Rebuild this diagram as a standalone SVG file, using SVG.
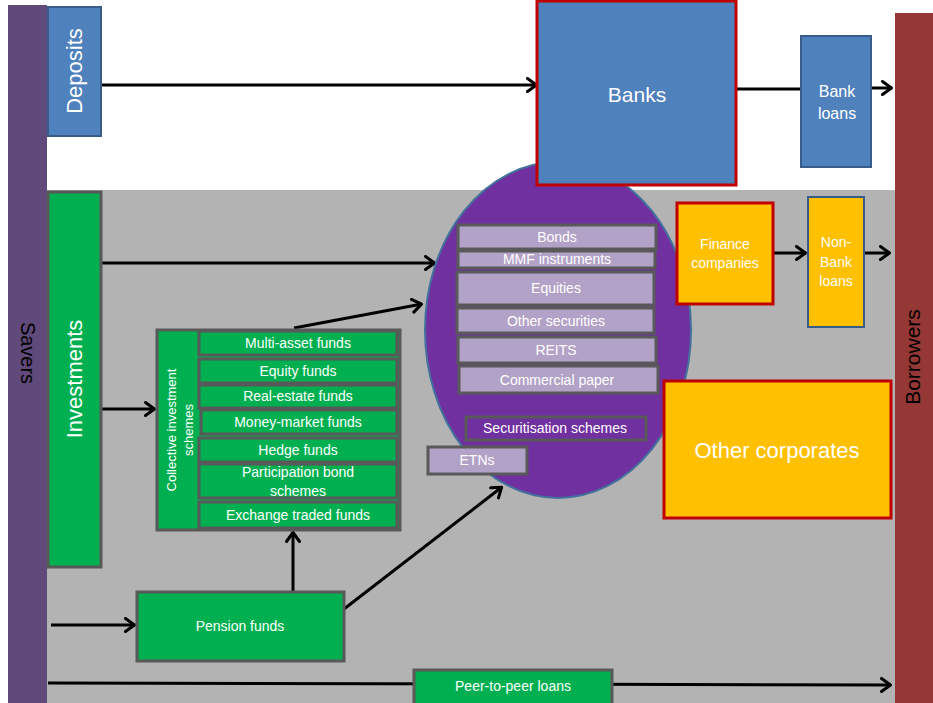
<svg xmlns="http://www.w3.org/2000/svg" width="933" height="703" viewBox="0 0 933 703">
<defs>
<marker id="arr" viewBox="0 0 12 16" refX="11" refY="8" markerWidth="12" markerHeight="16" markerUnits="userSpaceOnUse" orient="auto">
<path d="M1.5,1.5 L10.5,8 L1.5,14.5" fill="none" stroke="#000" stroke-width="3" stroke-linecap="round" stroke-linejoin="round"/>
</marker>
</defs>
<style>
text{font-family:"Liberation Sans",Arial,sans-serif;fill:#fff;text-anchor:middle}
.g{fill:#00B050;stroke:#595959;stroke-width:3}
.lav{fill:#B3A2C7;stroke:#595959;stroke-width:3}
.blue{fill:#4F81BD;stroke:#385D8A;stroke-width:2}
.red{stroke:#C00000;stroke-width:3}
.y{fill:#FFC000}
.t14{font-size:14px}
.c line{stroke:#000;stroke-width:3}
.c .a{marker-end:url(#arr)}
</style>
<rect x="0" y="0" width="933" height="703" fill="#fff"/>
<rect x="47" y="190" width="848" height="513" fill="#B3B3B3"/>

<g id="savers"><rect x="8" y="5" width="39" height="698" fill="#604A7B"/>
<text transform="translate(21,353) rotate(90)" font-size="20" style="fill:#000">Savers</text></g>
<g id="borrowers"><rect x="895" y="13" width="38" height="690" fill="#953735"/>
<text transform="translate(920,357) rotate(-90)" font-size="21" style="fill:#000">Borrowers</text></g>

<g class="c" id="connectors">
<line class="a" x1="101" y1="85" x2="537" y2="85"/>
<line x1="736" y1="89" x2="801" y2="89"/>
<line class="a" x1="871" y1="88" x2="892" y2="88"/>
<line class="a" x1="101" y1="263" x2="435" y2="263"/>
<line class="a" x1="101" y1="409" x2="155" y2="409"/>
<line class="a" x1="294" y1="328" x2="422" y2="304"/>
<line class="a" x1="774" y1="253" x2="806" y2="253"/>
<line class="a" x1="864" y1="253" x2="890" y2="253"/>
<line class="a" x1="51" y1="625" x2="135" y2="625"/>
<line class="a" x1="293" y1="592" x2="293" y2="532"/>
<line class="a" x1="344" y1="609" x2="502" y2="487"/>
<line class="a" x1="48" y1="683" x2="891" y2="685"/>
</g>

<g id="deposits"><rect class="blue" x="48" y="7" width="53" height="129"/>
<text transform="translate(82,71) rotate(-90)" font-size="22">Deposits</text></g>
<g id="investments"><rect class="g" x="48" y="192" width="53" height="375"/>
<text transform="translate(82,379) rotate(-90)" font-size="22">Investments</text></g>

<g id="markets"><ellipse cx="558" cy="330" rx="133" ry="168" fill="#7030A0" stroke="#41719C" stroke-width="2"/>
<g id="bonds"><rect class="lav" x="458" y="225" width="198" height="24"/><text class="t14" x="557" y="242">Bonds</text></g>
<g id="mmf"><rect class="lav" x="458" y="251" width="197" height="17"/><text class="t14" x="557" y="264">MMF instruments</text></g>
<g id="equities"><rect class="lav" x="457" y="272" width="197" height="33"/><text class="t14" x="556" y="293">Equities</text></g>
<g id="othersec"><rect class="lav" x="457" y="308" width="197" height="25"/><text class="t14" x="556" y="326">Other securities</text></g>
<g id="reits"><rect class="lav" x="458" y="337" width="198" height="26"/><text class="t14" x="556" y="355">REITS</text></g>
<g id="cp"><rect class="lav" x="459" y="366" width="199" height="27"/><text class="t14" x="557" y="385">Commercial paper</text></g>
<g id="securitisation"><rect x="466" y="417" width="180" height="23" fill="#7030A0" stroke="#595959" stroke-width="3"/><text class="t14" x="555" y="433">Securitisation schemes</text></g>
<g id="etns"><rect class="lav" x="428" y="447" width="99" height="27"/><text class="t14" x="477" y="465">ETNs</text></g>
</g>

<g id="banks"><rect x="537" y="1" width="199" height="184" fill="#4F81BD" class="red"/>
<text x="637" y="102" font-size="21">Banks</text></g>
<g id="bankloans"><rect class="blue" x="801" y="36" width="70" height="131"/>
<text x="837" y="97" font-size="16">Bank</text><text x="837" y="119" font-size="16">loans</text></g>

<g id="finance"><rect class="y red" x="677" y="203" width="96" height="101"/>
<text class="t14" x="725" y="249">Finance</text><text class="t14" x="725" y="268">companies</text></g>
<g id="nonbank"><rect class="y" x="808" y="197" width="56" height="130" stroke="#385D8A" stroke-width="2"/>
<text class="t14" x="836" y="247">Non-</text><text class="t14" x="836" y="267">Bank</text><text class="t14" x="836" y="286">loans</text></g>
<g id="othercorp"><rect class="y red" x="664" y="381" width="227" height="137"/>
<text x="777" y="458" font-size="22">Other corporates</text></g>

<g id="cis"><rect class="g" x="157" y="330" width="243" height="200"/>
<text transform="rotate(-90 176 430)" x="176" y="430" font-size="13">Collective investment</text>
<text transform="rotate(-90 193 430)" x="193" y="430" font-size="13">schemes</text>
<g id="multi"><rect class="g" x="199" y="331" width="198" height="24"/><text class="t14" x="298" y="348">Multi-asset funds</text></g>
<g id="equityf"><rect class="g" x="199" y="359" width="198" height="24"/><text class="t14" x="298" y="376">Equity funds</text></g>
<g id="realestate"><rect class="g" x="199" y="385" width="198" height="23"/><text class="t14" x="298" y="401">Real-estate funds</text></g>
<g id="mmfunds"><rect class="g" x="201" y="410" width="196" height="24"/><text class="t14" x="298" y="427">Money-market funds</text></g>
<g id="hedge"><rect class="g" x="199" y="438" width="198" height="24"/><text class="t14" x="298" y="455">Hedge funds</text></g>
<g id="pbs"><rect class="g" x="199" y="464" width="198" height="34"/><text class="t14" x="298" y="477">Participation bond</text><text class="t14" x="298" y="496">schemes</text></g>
<g id="etf"><rect class="g" x="199" y="502" width="198" height="26"/><text class="t14" x="298" y="520">Exchange traded funds</text></g>
</g>

<g id="pension"><rect class="g" x="137" y="592" width="207" height="69"/>
<text class="t14" x="240" y="631">Pension funds</text></g>
<g id="p2p"><rect class="g" x="414" y="670" width="198" height="36"/>
<text class="t14" x="513" y="691">Peer-to-peer loans</text></g>
</svg>
